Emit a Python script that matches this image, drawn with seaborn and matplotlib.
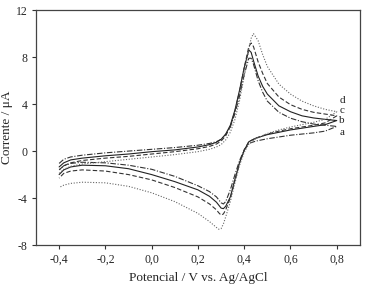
import numpy as np
import pandas as pd
import seaborn as sns
import matplotlib
matplotlib.use("Agg")
import matplotlib.pyplot as plt

# potential grids (V vs Ag/AgCl)
E_fwd = [-0.40, -0.38, -0.35, -0.30, -0.20, -0.10, 0.00, 0.10, 0.20, 0.25,
         0.28, 0.30, 0.32, 0.34, 0.36, 0.38, 0.40, 0.42, 0.43, 0.44,
         0.46, 0.48, 0.50, 0.55, 0.60, 0.65, 0.70, 0.75, 0.80]
E_rev = [0.80, 0.75, 0.70, 0.65, 0.60, 0.55, 0.50, 0.45, 0.42, 0.40,
         0.38, 0.36, 0.34, 0.32, 0.31, 0.30, 0.29, 0.28, 0.25, 0.20,
         0.10, 0.00, -0.10, -0.20, -0.30, -0.35, -0.38, -0.40]

# current (uA), forward scan
a_fwd = [-1.05, -0.7, -0.5, -0.35, -0.15, 0.0, 0.15, 0.3, 0.5, 0.65,
         0.8, 1.0, 1.4, 2.05, 3.2, 4.7, 6.5, 7.9, 7.9, 7.4,
         6.0, 5.0, 4.25, 3.3, 2.8, 2.5, 2.3, 2.2, 2.1]
b_fwd = [-1.35, -1.0, -0.75, -0.6, -0.4, -0.25, -0.05, 0.1, 0.35, 0.55,
         0.75, 1.0, 1.45, 2.2, 3.5, 5.2, 7.1, 8.6, 8.4, 7.7,
         6.4, 5.5, 4.85, 3.85, 3.35, 3.0, 2.82, 2.7, 2.6]
c_fwd = [-1.6, -1.25, -1.0, -0.8, -0.6, -0.45, -0.25, -0.05, 0.2, 0.4,
         0.6, 0.85, 1.3, 2.1, 3.4, 5.1, 7.1, 8.9, 9.2, 8.9,
         7.6, 6.6, 5.75, 4.6, 3.95, 3.55, 3.3, 3.15, 3.0]
d_fwd = [-1.9, -1.55, -1.3, -1.1, -0.9, -0.7, -0.5, -0.3, -0.05, 0.15,
         0.35, 0.55, 0.95, 1.6, 2.7, 4.3, 6.4, 8.7, 9.6, 10.0,
         9.4, 8.2, 7.2, 5.7, 4.85, 4.25, 3.85, 3.55, 3.35]

# current (uA), reverse scan
a_rev = [2.1, 1.7, 1.55, 1.45, 1.35, 1.2, 1.05, 0.85, 0.65, 0.1,
         -0.8, -2.0, -3.3, -4.3, -4.5, -4.4, -4.15, -3.9, -3.45, -2.95,
         -2.15, -1.55, -1.2, -1.0, -0.95, -1.05, -1.25, -1.6]
b_rev = [2.6, 2.25, 2.1, 1.95, 1.8, 1.6, 1.4, 1.1, 0.8, 0.05,
         -1.0, -2.4, -3.9, -4.7, -4.9, -4.85, -4.6, -4.35, -3.85, -3.3,
         -2.6, -2.0, -1.5, -1.25, -1.2, -1.35, -1.6, -2.0]
c_rev = [3.0, 2.4, 2.2, 2.05, 1.9, 1.7, 1.45, 1.1, 0.8, 0.1,
         -1.0, -2.5, -4.0, -5.0, -5.35, -5.45, -5.25, -5.0, -4.5, -3.9,
         -3.1, -2.45, -2.0, -1.7, -1.6, -1.7, -1.9, -2.3]
d_rev = [3.35, 2.7, 2.45, 2.25, 2.05, 1.8, 1.5, 1.05, 0.6, -0.1,
         -1.2, -2.7, -4.3, -5.6, -6.2, -6.6, -6.65, -6.5, -6.0, -5.3,
         -4.3, -3.55, -3.0, -2.7, -2.65, -2.75, -2.9, -3.1]

labels = ["a", "b", "c", "d"]
styles = {"a": (0, (5, 1.5, 1, 1.5)), "b": "-", "c": (0, (4, 2)), "d": (0, (1, 1.5))}
colors = {"a": "#333333", "b": "#222222", "c": "#333333", "d": "#666666"}
curves = {"a": (a_fwd, a_rev), "b": (b_fwd, b_rev), "c": (c_fwd, c_rev), "d": (d_fwd, d_rev)}

sns.set_style("ticks")
plt.rcParams["font.family"] = ["Liberation Serif", "DejaVu Serif"]

fig = plt.figure(figsize=(3.65, 2.88), dpi=100)
ax = fig.add_axes([0.0986, 0.149, 0.8874, 0.816])

for lab in labels:
    fwd, rev = curves[lab]
    df = pd.DataFrame({"E": E_fwd + E_rev, "I": fwd + rev})
    sns.lineplot(data=df, x="E", y="I", sort=False, estimator=None, ax=ax,
                 color=colors[lab], linestyle=styles[lab], linewidth=0.8)

# curve labels at the right end
label_pos = {"d": 4.3, "c": 3.45, "b": 2.6, "a": 1.6}
for lab, yv in label_pos.items():
    ax.text(0.823, yv, lab, fontsize=8, ha="center", va="center", color="#222222")

ax.set_xlim(-0.5, 0.9)
ax.set_ylim(-8, 12)
xt = [-0.4, -0.2, 0.0, 0.2, 0.4, 0.6, 0.8]
ax.set_xticks(xt)
ax.set_xticklabels(["-0,4", "-0,2", "0,0", "0,2", "0,4", "0,6", "0,8"], fontsize=8.5)
yt = [-8, -4, 0, 4, 8, 12]
ax.set_yticks(yt)
ax.set_yticklabels(["-8", "-4", "0", "4", "8", "12"], fontsize=8.5)
ax.tick_params(length=3, width=0.8, color="#333333", pad=3)
for s in ax.spines.values():
    s.set_linewidth(0.9)
    s.set_color("#444444")
ax.set_xlabel("Potencial / V vs. Ag/AgCl", fontsize=9.5, labelpad=5)
ax.set_ylabel("Corrente / μA", fontsize=9.5, labelpad=2)

fig.savefig("out.png", dpi=100)
